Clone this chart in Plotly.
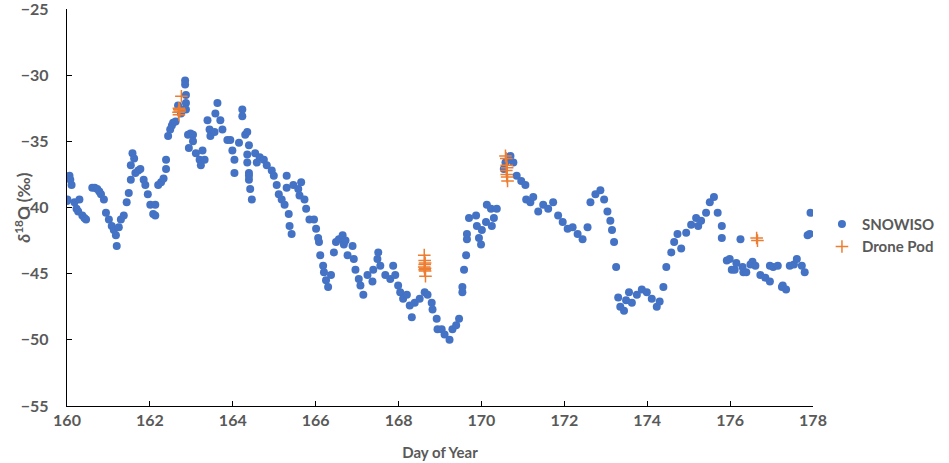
import plotly.graph_objs as go

# SNOWISO record (day of year, d18O permil)
snow_day = [
    160.00, 160.01, 160.06, 160.08, 160.11, 160.18, 160.23, 160.27, 160.30, 160.37,
    160.42, 160.46, 160.61, 160.67, 160.73, 160.78, 160.82, 160.89, 160.94, 161.01,
    161.08, 161.13, 161.18, 161.20, 161.25, 161.30, 161.37, 161.44, 161.49, 161.54,
    161.54, 161.58, 161.62, 161.65, 161.72, 161.77, 161.85, 161.89, 161.95, 162.01,
    162.08, 162.13, 162.13, 162.20, 162.27, 162.33, 162.39, 162.39, 162.44, 162.49,
    162.53, 162.56, 162.62, 162.68, 162.75, 162.80, 162.85, 162.85, 162.87, 162.87,
    162.87, 162.92, 162.94, 162.98, 163.04, 163.04, 163.11, 163.20, 163.23, 163.27,
    163.32, 163.39, 163.44, 163.46, 163.56, 163.58, 163.63, 163.70, 163.75, 163.87,
    163.94, 163.99, 164.04, 164.04, 164.15, 164.23, 164.23, 164.30, 164.35, 164.35,
    164.35, 164.39, 164.39, 164.39, 164.39, 164.42, 164.46, 164.54, 164.58, 164.65,
    164.75, 164.82, 164.94, 164.99, 165.06, 165.11, 165.18, 165.25, 165.30, 165.30,
    165.35, 165.37, 165.42, 165.46, 165.58, 165.61, 165.65, 165.73, 165.77, 165.85,
    165.96, 166.01, 166.06, 166.08, 166.11, 166.18, 166.20, 166.25, 166.30, 166.37,
    166.44, 166.49, 166.56, 166.65, 166.68, 166.72, 166.77, 166.89, 166.92, 166.96,
    167.04, 167.08, 167.15, 167.25, 167.37, 167.39, 167.49, 167.51, 167.56, 167.68,
    167.80, 167.87, 167.92, 167.99, 168.04, 168.11, 168.20, 168.27, 168.32, 168.39,
    168.51, 168.63, 168.70, 168.80, 168.82, 168.92, 168.94, 169.04, 169.11, 169.23,
    169.30, 169.39, 169.46, 169.54, 169.54, 169.58, 169.63, 169.65, 169.65, 169.70,
    169.87, 169.89, 169.94, 169.99, 170.01, 170.11, 170.13, 170.23, 170.25, 170.30,
    170.37, 170.54, 170.58, 170.65, 170.70, 170.77, 170.85, 170.96, 171.06, 171.08,
    171.18, 171.25, 171.37, 171.49, 171.61, 171.73, 171.85, 171.96, 172.08, 172.20,
    172.32, 172.44, 172.56, 172.63, 172.75, 172.87, 172.96, 173.04, 173.11, 173.15,
    173.20, 173.25, 173.30, 173.35, 173.44, 173.49, 173.56, 173.63, 173.75, 173.87,
    173.99, 174.11, 174.23, 174.30, 174.39, 174.46, 174.58, 174.65, 174.73, 174.82,
    174.94, 175.06, 175.18, 175.23, 175.30, 175.42, 175.51, 175.61, 175.70, 175.80,
    175.80, 175.92, 175.99, 176.04, 176.11, 176.15, 176.25, 176.30, 176.32, 176.39,
    176.49, 176.54, 176.61, 176.73, 176.85, 176.96, 176.96, 177.04, 177.15, 177.25,
    177.27, 177.35, 177.44, 177.54, 177.61, 177.73, 177.80, 177.87, 177.92, 177.94,
]
snow_d18o = [
    -39.5, -39.4, -37.6, -37.9, -38.3, -39.6, -40.1, -40.3, -39.4, -40.6,
    -40.8, -40.9, -38.5, -38.5, -38.6, -38.8, -39.0, -39.4, -40.4, -40.9,
    -41.4, -41.7, -42.1, -42.9, -41.5, -40.9, -40.6, -39.6, -38.9, -37.9,
    -36.8, -35.9, -36.3, -37.4, -37.2, -37.1, -37.9, -38.3, -39.0, -39.8,
    -40.5, -40.6, -39.8, -38.3, -38.1, -37.8, -37.1, -36.4, -34.6, -34.1,
    -33.8, -33.6, -33.5, -32.3, -32.9, -32.6, -30.4, -30.7, -31.5, -32.1,
    -32.6, -34.5, -35.5, -34.4, -34.5, -35.0, -35.9, -36.4, -36.8, -35.7,
    -36.4, -33.4, -34.1, -34.6, -34.3, -32.9, -32.1, -33.4, -34.1, -34.9,
    -34.9, -35.7, -36.4, -37.4, -35.1, -32.6, -33.1, -34.5, -36.0, -34.3,
    -36.6, -37.4, -37.9, -35.3, -37.6, -38.6, -39.4, -35.9, -36.6, -36.2,
    -36.4, -36.8, -37.2, -37.6, -38.3, -39.0, -39.4, -39.8, -37.6, -38.5,
    -40.5, -41.4, -42.0, -38.3, -38.6, -39.1, -38.1, -39.4, -40.1, -40.9,
    -40.9, -41.6, -42.3, -42.6, -43.6, -44.4, -44.9, -45.5, -46.0, -45.1,
    -43.4, -42.6, -42.4, -42.1, -42.8, -42.5, -43.6, -42.9, -43.9, -44.7,
    -45.4, -45.9, -46.6, -45.1, -45.6, -44.7, -43.9, -43.4, -44.4, -45.1,
    -45.4, -44.4, -45.1, -45.9, -46.4, -46.9, -46.6, -47.4, -48.3, -47.2,
    -46.9, -46.4, -46.6, -47.2, -47.7, -48.4, -49.2, -49.2, -49.6, -50.0,
    -49.2, -48.9, -48.4, -46.4, -46.0, -44.7, -43.6, -42.4, -42.0, -40.8,
    -40.6, -41.4, -42.3, -42.8, -41.7, -41.1, -39.8, -40.1, -41.4, -40.8,
    -40.1, -37.1, -36.6, -36.4, -36.1, -36.6, -37.6, -38.0, -38.3, -39.4,
    -39.6, -39.2, -40.3, -39.8, -40.1, -39.6, -40.6, -41.1, -41.6, -41.5,
    -42.0, -42.4, -41.5, -39.6, -39.0, -38.7, -39.4, -40.3, -41.0, -41.7,
    -42.6, -44.5, -46.8, -47.5, -47.8, -47.0, -46.4, -47.2, -46.6, -46.2,
    -46.4, -46.9, -47.5, -47.1, -46.0, -44.5, -43.4, -42.6, -42.0, -43.1,
    -41.9, -41.3, -40.8, -41.4, -41.0, -40.4, -39.6, -39.2, -40.4, -41.4,
    -42.3, -44.0, -43.9, -44.7, -44.7, -44.2, -42.4, -44.5, -44.9, -44.9,
    -44.3, -44.1, -44.4, -45.1, -45.3, -44.4, -45.6, -44.5, -44.4, -46.0,
    -45.9, -46.2, -44.4, -44.3, -43.9, -44.4, -44.9, -42.1, -42.0, -40.4,
]

# Drone Pod samples
drone_day = [
    162.76, 162.70, 162.71, 162.72, 162.69, 162.70,
    168.62, 168.63, 168.64, 168.63, 168.62, 168.64, 168.63, 168.64, 168.65,
    170.58, 170.60, 170.61, 170.62, 170.60, 170.61, 170.62, 170.63,
    176.64, 176.66,
]
drone_d18o = [
    -31.6, -32.5, -32.6, -32.7, -32.8, -33.0,
    -43.6, -44.0, -44.2, -44.3, -44.5, -44.6, -44.7, -44.8, -45.2,
    -36.1, -36.3, -36.8, -37.0, -37.2, -37.5, -37.7, -38.0,
    -42.3, -42.5,
]

x_ticks = [160, 162, 164, 166, 168, 170, 172, 174, 176, 178]
y_ticks = [-55, -50, -45, -40, -35, -30, -25]

GREY = "#595959"
FONT = "Lato"


def Points(fig, x, y, name, color, symbol, size, line_width=0):
    fig.add_trace(
        go.Scatter(
            x=x,
            y=y,
            name=name,
            mode="markers",
            marker=dict(
                symbol=symbol,
                size=size,
                color=color,
                line=dict(color=color, width=line_width),
            ),
        )
    )
    return fig


fig = go.Figure()
fig = Points(fig, snow_day, snow_d18o, "SNOWISO", "#4472C4", "circle", 8)
fig = Points(fig, drone_day, drone_d18o, "Drone Pod", "#ED7D31", "cross-thin", 9, 1.5)

axis_common = dict(
    showline=True,
    linecolor="black",
    linewidth=1.3,
    ticks="inside",
    ticklen=5,
    tickcolor="black",
    showgrid=False,
    zeroline=False,
    automargin=False,
    ticklabeloverflow="allow",
    tickfont=dict(family=FONT, size=16, color=GREY, weight="bold"),
)

fig.update_xaxes(
    range=[160, 178],
    tickvals=x_ticks,
    title=dict(text="Day of Year", font=dict(family=FONT, size=15, color=GREY, weight="bold"), standoff=19),
    **axis_common
)
fig.update_yaxes(
    range=[-55, -25],
    tickvals=y_ticks,
    ticklabelstandoff=14,
    **axis_common
)

# y title placed by hand so it sits where the original one does
fig.add_annotation(
    text="<i>δ</i><sup>18</sup>O (‰)",
    xref="paper", yref="paper",
    x=-0.06, y=0.5,
    xanchor="center", yanchor="middle",
    textangle=-90,
    showarrow=False,
    font=dict(family=FONT, size=17, color=GREY, weight="bold"),
)

fig.update_layout(
    width=949,
    height=463,
    plot_bgcolor="white",
    paper_bgcolor="white",
    margin=dict(l=67, r=126, t=9, b=57),
    legend=dict(
        x=1.012,
        y=0.43,
        xanchor="left",
        yanchor="middle",
        font=dict(family=FONT, size=15, color=GREY, weight="bold"),
        itemwidth=30,
        tracegroupgap=6,
    ),
)

# page body has a default 8px margin; drop it so the figure sits at the corner
fig.write_html(
    "out.html",
    config={"displayModeBar": False},
    post_script="document.body.style.margin='0px';",
)
